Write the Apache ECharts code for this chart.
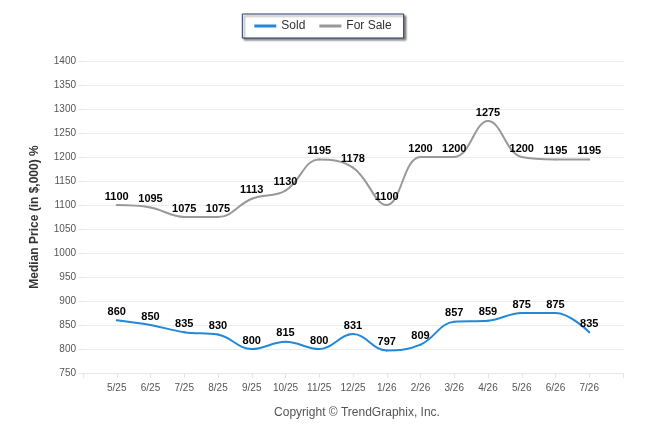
<!DOCTYPE html>
<html>
<head>
<meta charset="utf-8">
<script src="https://cdn.jsdelivr.net/npm/echarts@6/dist/echarts.min.js"></script>
<style>
  html, body { margin: 0; padding: 0; background: #fff; }
  #chart { width: 646px; height: 434px; }
</style>
</head>
<body>
<div id="chart"></div>
<script>
var months = ['5/25','6/25','7/25','8/25','9/25','10/25','11/25','12/25','1/26','2/26','3/26','4/26','5/26','6/26','7/26'];
var sold = [860,850,835,830,800,815,800,831,797,809,857,859,875,875,835];
var forSale = [1100,1095,1075,1075,1113,1130,1195,1178,1100,1200,1200,1275,1200,1195,1195];

// one empty slot at each end, like the original axis
function pad(arr, blank) { return [blank].concat(arr, [blank]); }

var chart = echarts.init(document.getElementById('chart'));

function labelStyle() {
    return {
        show: true,
        position: 'top',
        distance: 2,
        color: '#000',
        fontWeight: 'bold',
        fontSize: 11,
        fontFamily: 'Liberation Sans, Arial, sans-serif'
    };
}

chart.setOption({
    animation: false,
    textStyle: { fontFamily: 'Liberation Sans, Arial, sans-serif' },
    legend: {
        top: 14,
        left: 'center',
        padding: [6, 12, 6, 12],
        itemGap: 14,
        itemWidth: 22,
        itemHeight: 3,
        icon: 'rect',
        borderColor: '#1f3864',
        borderWidth: 1,
        backgroundColor: '#fff',
        shadowColor: 'rgba(0,0,0,0.45)',
        shadowOffsetX: 2,
        shadowOffsetY: 2,
        shadowBlur: 2,
        textStyle: { color: '#333', fontSize: 12 },
        data: ['Sold', 'For Sale']
    },
    title: {
        text: 'Copyright \u00a9 TrendGraphix, Inc.',
        left: 352,
        textAlign: 'center',
        top: 402,
        textStyle: { color: '#555', fontSize: 12, fontWeight: 'normal' }
    },
    grid: { left: 83, right: 23, top: 61, bottom: 61 },
    xAxis: {
        type: 'category',
        boundaryGap: false,
        data: pad(months, ''),
        axisLine: { lineStyle: { color: '#e6e6e6' } },
        axisTick: { show: true, length: 5, lineStyle: { color: '#e6e6e6' } },
        axisLabel: { color: '#555', fontSize: 10, margin: 10, interval: 0 }
    },
    yAxis: {
        type: 'value',
        min: 750,
        max: 1400,
        interval: 50,
        name: 'Median Price (in $,000) %',
        nameLocation: 'middle',
        nameGap: 42,
        nameTextStyle: { color: '#333', fontWeight: 'bold', fontSize: 12 },
        axisLine: { show: false },
        axisTick: { show: true, length: 4, lineStyle: { color: '#e6e6e6' } },
        axisLabel: { color: '#555', fontSize: 10, margin: 7, formatter: function (v) { return String(v); } },
        splitLine: { lineStyle: { color: '#ececec' } }
    },
    series: [
        {
            name: 'Sold',
            type: 'line',
            smooth: 0.4,
            data: pad(sold, null),
            symbol: 'circle',
            symbolSize: 2,
            showSymbol: true,
            color: '#2388d8',
            itemStyle: { color: '#2388d8' },
            lineStyle: { width: 2, color: '#2388d8' },
            label: labelStyle(),
            labelLayout: { hideOverlap: false }
        },
        {
            name: 'For Sale',
            type: 'line',
            smooth: 0.4,
            data: pad(forSale, null),
            symbol: 'circle',
            symbolSize: 2,
            showSymbol: true,
            color: '#999999',
            itemStyle: { color: '#999999' },
            lineStyle: { width: 2, color: '#999999' },
            label: labelStyle(),
            labelLayout: { hideOverlap: false }
        }
    ]
});
</script>
</body>
</html>
